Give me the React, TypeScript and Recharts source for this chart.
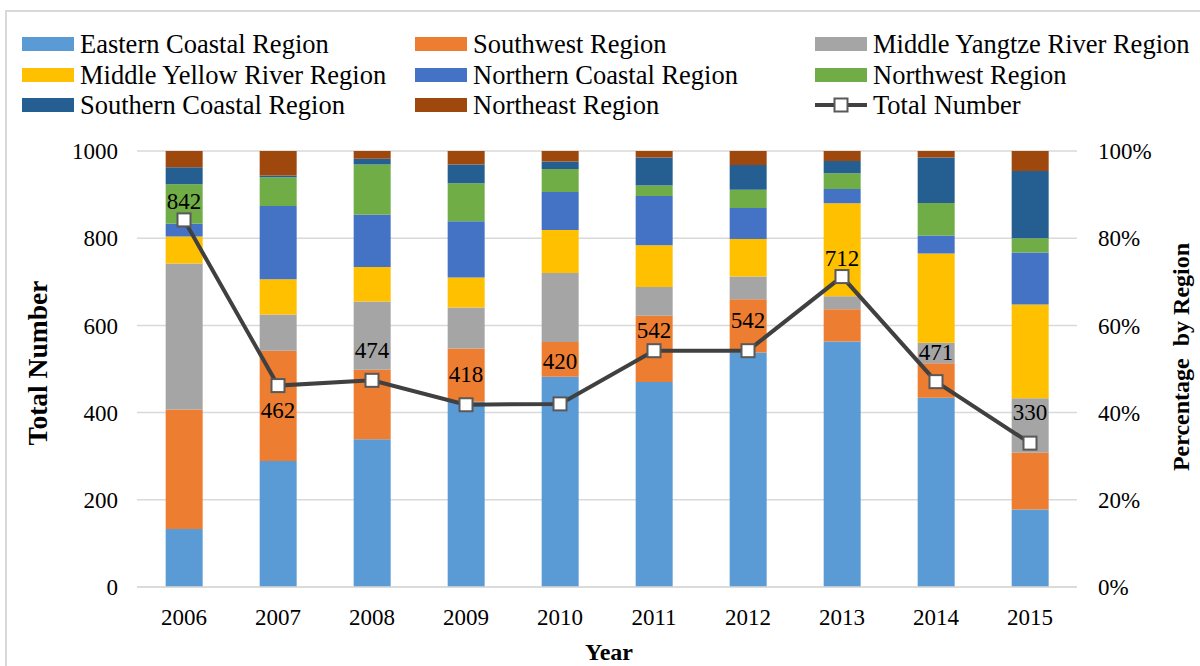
import React from "react";
import {
  ComposedChart, Bar, Line, XAxis, YAxis, CartesianGrid, LabelList,
} from "recharts";

// percentage share of each region per year (right axis), stacked bottom -> top
const YEARS = ["2006", "2007", "2008", "2009", "2010", "2011", "2012", "2013", "2014", "2015"];
const EASTERN = [13.3, 28.9, 33.9, 42.5, 48.2, 47.0, 53.8, 56.3, 43.4, 17.8];
const SOUTHWEST = [27.4, 25.3, 15.9, 12.2, 8.0, 15.2, 12.2, 7.4, 7.9, 13.0];
const YANGTZE = [33.5, 8.3, 15.7, 9.4, 15.8, 6.6, 5.2, 3.0, 4.7, 12.5];
const YELLOW = [6.2, 8.1, 7.9, 6.9, 9.9, 9.6, 8.6, 21.3, 20.5, 21.5];
const NORTHERN = [2.9, 16.8, 12.0, 12.9, 8.7, 11.3, 7.1, 3.3, 4.1, 11.9];
const NORTHWEST = [9.1, 6.6, 11.5, 8.7, 5.3, 2.4, 4.2, 3.6, 7.5, 3.3];
const SOUTHERN = [3.9, 0.4, 1.3, 4.3, 1.7, 6.4, 5.7, 2.8, 10.4, 15.4];
const NORTHEAST = [3.7, 5.6, 1.8, 3.1, 2.4, 1.5, 3.2, 2.3, 1.5, 4.6];
// total number (left axis)
const TOTAL = [842, 462, 474, 418, 420, 542, 542, 712, 471, 330];

const LEFT_TICKS = [0, 200, 400, 600, 800, 1000];
const RIGHT_TICKS = [0, 20, 40, 60, 80, 100];

const SERIES = [
  { key: "eastern", name: "Eastern Coastal Region", color: "#5B9BD5", values: EASTERN },
  { key: "southwest", name: "Southwest Region", color: "#ED7D31", values: SOUTHWEST },
  { key: "yangtze", name: "Middle Yangtze River Region", color: "#A5A5A5", values: YANGTZE },
  { key: "yellow", name: "Middle Yellow River Region", color: "#FFC000", values: YELLOW },
  { key: "northern", name: "Northern Coastal Region", color: "#4472C4", values: NORTHERN },
  { key: "northwest", name: "Northwest Region", color: "#70AD47", values: NORTHWEST },
  { key: "southern", name: "Southern Coastal Region", color: "#255E91", values: SOUTHERN },
  { key: "northeast", name: "Northeast Region", color: "#9E480E", values: NORTHEAST },
];

const rows = YEARS.map((year, i) => {
  const row: Record<string, any> = { year, total: TOTAL[i] };
  SERIES.forEach((s) => { row[s.key] = s.values[i]; });
  return row;
});

const FONT = "Liberation Serif";
const LINE_COLOR = "#404040";
const GRID = "#d9d9d9";

// hand-placed data labels in the original: baseline offset from the marker
const LABEL_DY = [-11, 32, -22, -23, -35, -13, -23, -11, -22, -23];

const Square = (props: any) => {
  const { cx, cy, index } = props;
  return (
    <rect key={`sq-${index}`} x={cx - 6.5} y={cy - 6.5} width={13} height={13}
      fill="#ffffff" stroke="#595959" strokeWidth={2} />
  );
};

const TotalLabel = (props: any) => {
  const { x, y, value, index } = props;
  return (
    <text x={x} y={y + LABEL_DY[index]} textAnchor="middle" fontSize={23}
      style={{ fontFamily: FONT }} fill="#000">{value}</text>
  );
};

function LegendBox() {
  const cols = [22, 415, 815];
  const rowsY = [44, 75, 105];
  const items = [...SERIES.map((s) => ({ name: s.name, color: s.color, line: false })),
    { name: "Total Number", color: LINE_COLOR, line: true }];
  return (
    <>
      {items.map((it, i) => {
        const left = cols[i % 3];
        const top = rowsY[Math.floor(i / 3)];
        return (
          <div key={it.name} style={{ position: "absolute", left, top: top - 16, height: 32,
            display: "flex", alignItems: "center", whiteSpace: "nowrap" }}>
            {it.line ? (
              <svg width={52} height={16} style={{ display: "block" }}>
                <line x1={0} y1={8} x2={52} y2={8} stroke={LINE_COLOR} strokeWidth={4} />
                <rect x={19.5} y={1.5} width={13} height={13} fill="#fff" stroke="#595959" strokeWidth={2} />
              </svg>
            ) : (
              <div style={{ width: 52, height: 14, background: it.color }} />
            )}
            <span style={{ marginLeft: 6, fontFamily: FONT, fontSize: 26.5, color: "#000", lineHeight: "32px" }}>
              {it.name}
            </span>
          </div>
        );
      })}
    </>
  );
}

const tickStyle = { fill: "#000", fontSize: 23, style: { fontFamily: FONT } };

export default function App() {
  return (
    <div style={{ position: "absolute", left: 0, top: 0, width: 1200, height: 666,
      background: "#fff", overflow: "hidden", fontFamily: FONT }}>
      <div style={{ position: "absolute", left: 5, top: 10, width: 1200, height: 700,
        borderTop: `2px solid ${GRID}`, borderLeft: `2px solid ${GRID}` }} />
      <LegendBox />
      <div style={{ position: "absolute", left: 0, top: 0 }}>
        <ComposedChart width={1200} height={666} data={rows} style={{ fontFamily: FONT }}
          margin={{ top: 151, right: 0, bottom: 49, left: 0 }} barCategoryGap="30.5%">
          <CartesianGrid yAxisId="left" vertical={false} stroke={GRID} strokeWidth={1.5} />
          <XAxis dataKey="year" height={30} tickLine={false} tickSize={0} tickMargin={22}
            axisLine={{ stroke: GRID, strokeWidth: 1.5 }}
            tick={tickStyle}
            label={{ content: () => (
              <text x={609} y={660} textAnchor="middle" fontSize={24} fontWeight="bold"
                style={{ fontFamily: FONT }} fill="#000">Year</text>
            ) }} />
          <YAxis yAxisId="left" width={137} domain={[0, 1000]} ticks={LEFT_TICKS}
            axisLine={false} tickLine={false} tickSize={0} tickMargin={19}
            tick={tickStyle}
            label={{ content: () => (
              <text x={37} y={363} transform="rotate(-90 37 363)" textAnchor="middle"
                dominantBaseline="central" fontSize={27.5} fontWeight="bold"
                style={{ fontFamily: FONT }} fill="#000">Total Number</text>
            ) }} />
          <YAxis yAxisId="right" orientation="right" width={123} domain={[0, 100]} ticks={RIGHT_TICKS}
            axisLine={false} tickLine={false} tickSize={0} tickMargin={21}
            tickFormatter={(v) => `${v}%`}
            tick={tickStyle}
            label={{ content: () => (
              <text x={1181} y={357} transform="rotate(-90 1181 357)" textAnchor="middle"
                dominantBaseline="central" fontSize={24} fontWeight="bold"
                style={{ fontFamily: FONT, whiteSpace: "pre" }} fill="#000">Percentage  by Region</text>
            ) }} />
          {SERIES.map((s) => (
            <Bar key={s.key} yAxisId="right" dataKey={s.key} name={s.name} stackId="share"
              fill={s.color} isAnimationActive={false} />
          ))}
          <Line yAxisId="left" dataKey="total" name="Total Number" stroke={LINE_COLOR}
            strokeWidth={4} dot={Square} activeDot={false} isAnimationActive={false}>
            <LabelList dataKey="total" content={TotalLabel} />
          </Line>
        </ComposedChart>
      </div>
    </div>
  );
}
